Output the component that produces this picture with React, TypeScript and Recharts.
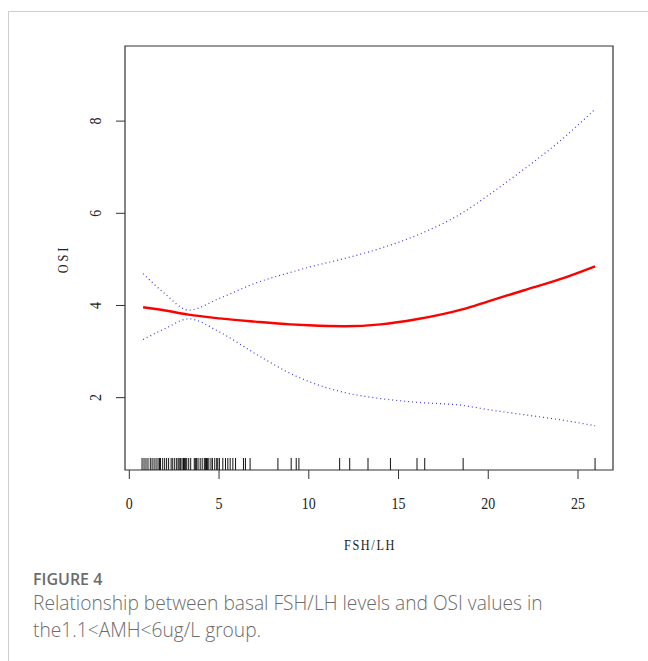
import { ComposedChart, Line, Scatter, XAxis, YAxis, ReferenceArea } from 'recharts'

// fitted curve and 95% CI
const fsh = [0.77, 2, 3.3, 5, 7, 9, 10, 12, 14, 16, 18.6, 20, 22, 24, 25.95]
const fit = [3.96, 3.89, 3.8, 3.72, 3.65, 3.59, 3.57, 3.55, 3.59, 3.7, 3.92, 4.09, 4.33, 4.57, 4.85]
const upper = [4.69, 4.25, 3.9, 4.15, 4.48, 4.72, 4.83, 5.02, 5.24, 5.52, 6.02, 6.39, 6.96, 7.57, 8.26]
const lower = [3.26, 3.5, 3.71, 3.43, 2.96, 2.52, 2.35, 2.11, 1.98, 1.9, 1.83, 1.74, 1.63, 1.52, 1.39]

// observed FSH/LH values (rug)
const rug = [
  0.71, 0.82, 0.93, 1.04, 1.17, 1.27, 1.38, 1.49, 1.6, 1.68, 1.74, 1.86, 1.97, 2.08, 2.19,
  2.33, 2.42, 2.53, 2.64, 2.72, 2.78, 2.86, 2.94, 3.02, 3.08, 3.14, 3.2, 3.31, 3.42, 3.62,
  3.68, 3.75, 3.83, 3.95, 4.06, 4.18, 4.24, 4.3, 4.35, 4.43, 4.55, 4.63, 4.76, 4.87, 4.93,
  5.02, 5.21, 5.36, 5.49, 5.62, 5.77, 5.92, 6.36, 6.47, 6.73, 8.28, 9.02, 9.3, 9.45, 11.72,
  12.28, 13.3, 14.55, 16.03, 16.46, 18.6, 25.95,
]

const xTicks = [0, 5, 10, 15, 20, 25]
const yTicks = [2, 4, 6, 8]

const X_DOMAIN: [number, number] = [-0.24, 26.95]
const Y_DOMAIN: [number, number] = [0.43, 9.63]

const curveData = fsh.map((x, i) => ({ x, fit: fit[i], upper: upper[i], lower: lower[i] }))
const rugData = rug.map((x) => ({ x, y: Y_DOMAIN[0] }))

const serif = '"Liberation Serif", "DejaVu Serif", serif'
const sans = '"Open Sans", "Noto Sans", sans-serif'

function XTick({ x, y, payload }: any) {
  return (
    <text
      transform={`translate(${x},${y + 28}) scale(0.82,1)`}
      textAnchor="middle"
      fontFamily={serif}
      fontSize={17}
      fill="#222"
    >
      {payload.value}
    </text>
  )
}

function YTick({ x, y, payload }: any) {
  return (
    <text
      transform={`translate(${x},${y}) rotate(-90) scale(0.82,1)`}
      textAnchor="middle"
      fontFamily={serif}
      fontSize={17}
      fill="#222"
    >
      {payload.value}
    </text>
  )
}

function RugMark({ cx, cy }: any) {
  return <line x1={cx} y1={cy} x2={cx} y2={cy - 12} stroke="#111" strokeWidth={1} />
}

export default function App() {
  return (
    <div style={{ position: 'absolute', left: 0, top: 0, width: 648, height: 661, overflow: 'hidden', background: '#fff' }}>
      <div
        style={{
          position: 'absolute', left: 8, top: 11, width: 700, height: 700,
          borderLeft: '1px solid #cfcfcf', borderTop: '1px solid #cfcfcf',
        }}
      />
      <div style={{ position: 'absolute', left: 0, top: 0 }}>
        <ComposedChart width={648} height={560} margin={{ top: 46, right: 35, bottom: 0, left: 0 }}>
          <XAxis
            dataKey="x"
            type="number"
            domain={X_DOMAIN}
            ticks={xTicks}
            allowDataOverflow
            axisLine={false}
            tickSize={9}
            tickMargin={2}
            tickLine={{ stroke: '#333' }}
            tick={<XTick />}
            height={90}
          />
          <YAxis
            type="number"
            domain={Y_DOMAIN}
            ticks={yTicks}
            allowDataOverflow
            axisLine={false}
            tickSize={9}
            tickMargin={15}
            tickLine={{ stroke: '#333' }}
            tick={<YTick />}
            width={125}
          />
          <ReferenceArea
            x1={X_DOMAIN[0]}
            x2={X_DOMAIN[1]}
            y1={Y_DOMAIN[0]}
            y2={Y_DOMAIN[1]}
            fill="none"
            stroke="#333"
            strokeWidth={1.2}
          />
          <Scatter data={rugData} dataKey="y" shape={<RugMark />} isAnimationActive={false} />
          <Line
            data={curveData}
            dataKey="upper"
            type="monotone"
            stroke="#3b3bdd"
            strokeWidth={1.2}
            strokeDasharray="1 3"
            dot={false}
            isAnimationActive={false}
          />
          <Line
            data={curveData}
            dataKey="lower"
            type="monotone"
            stroke="#3b3bdd"
            strokeWidth={1.2}
            strokeDasharray="1 3"
            dot={false}
            isAnimationActive={false}
          />
          <Line
            data={curveData}
            dataKey="fit"
            type="monotone"
            stroke="#ff0000"
            strokeWidth={2.4}
            dot={false}
            isAnimationActive={false}
          />
        </ComposedChart>
      </div>
      <svg style={{ position: 'absolute', left: 0, top: 0 }} width={648} height={560}>
        <text
          transform="translate(68,259) rotate(-90) scale(0.82,1)"
          textAnchor="middle"
          fontFamily={serif}
          fontSize={15}
          letterSpacing={3.5}
          fill="#222"
        >
          OSI
        </text>
        <text
          transform="translate(370,550) scale(0.82,1)"
          textAnchor="middle"
          fontFamily={serif}
          fontSize={15}
          letterSpacing={2}
          fill="#222"
        >
          FSH/LH
        </text>
      </svg>
      <div style={{ position: 'absolute', left: 33, top: 569, fontFamily: sans, color: '#6b6b6b' }}>
        <div style={{ fontSize: 16, fontWeight: 600, lineHeight: '20px' }}>FIGURE 4</div>
        <div style={{ fontSize: 19.2, fontWeight: 300, lineHeight: '27px', marginTop: 0 }}>
          Relationship between basal FSH/LH levels and OSI values in
          <br />
          the1.1&lt;AMH&lt;6ug/L group.
        </div>
      </div>
    </div>
  )
}
